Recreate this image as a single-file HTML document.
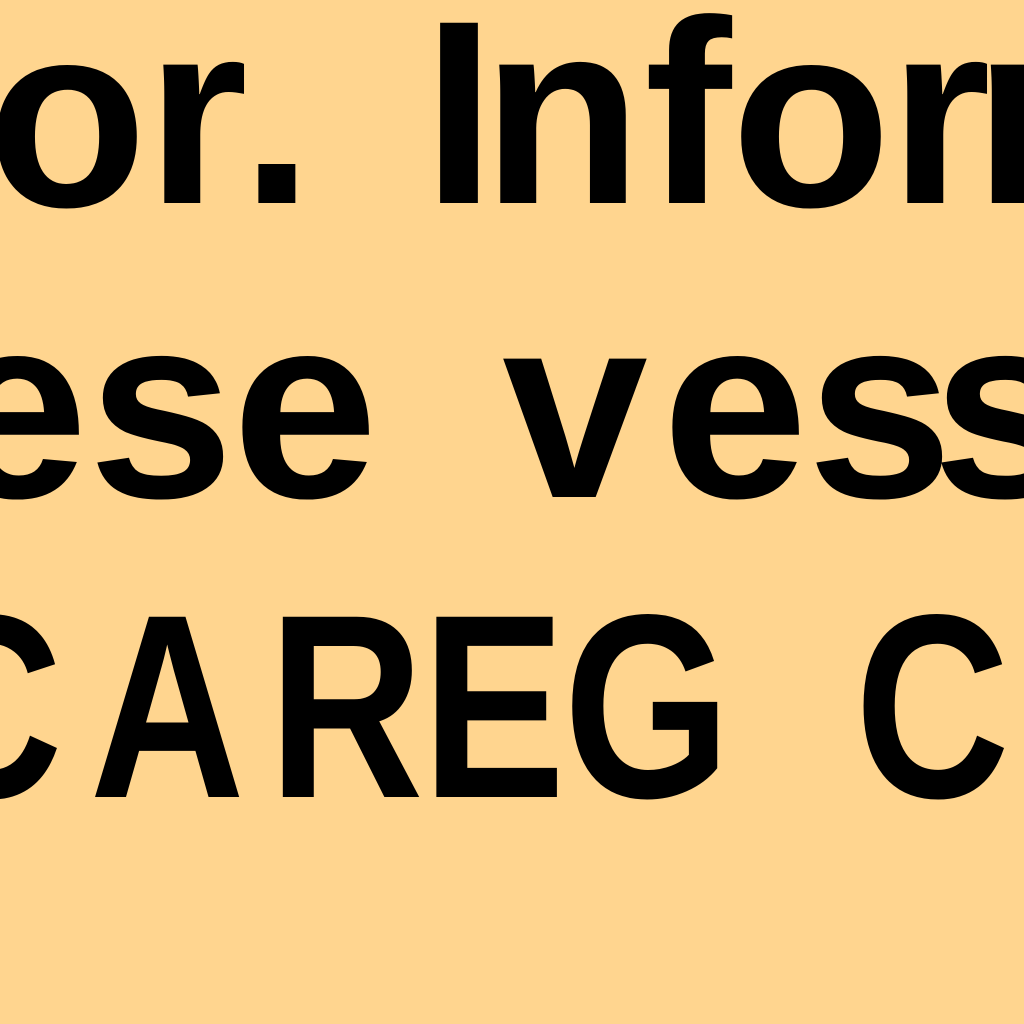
<!DOCTYPE html>
<html><head><style>
html,body{margin:0;padding:0;background:#FFD58F;width:1024px;height:1024px;overflow:hidden}
svg{display:block}
text{font-family:"Liberation Sans",sans-serif;font-size:262px;font-weight:bold;fill:#000;text-anchor:middle}
</style></head><body>
<svg width="1024" height="1024" viewBox="0 0 1024 1024">
<rect width="1024" height="1024" fill="#FFD58F"/>
<g>
<text x="67" y="206">o</text>
<text x="197" y="203">r</text>
<text x="277" y="203">.</text>
<text x="459" y="203">I</text>
<text x="562" y="203">n</text>
<text x="688" y="203">f</text>
<text x="811" y="206">o</text>
<text x="940" y="203">r</text>
<text x="1090" y="203">m</text>
</g>
<g>
<text x="15" y="497">e</text>
<text x="161" y="497">s</text>
<text x="305" y="497">e</text>
<text x="575" y="497">v</text>
<text x="735" y="497">e</text>
<text x="880" y="497">s</text>
<text x="1005" y="497">s</text>
</g>
<g transform="scale(0.82,1)">
<text x="-18" y="797">C</text>
<text x="204" y="797">A</text>
<text x="422" y="797">R</text>
<text x="602" y="797">E</text>
<text x="789" y="797">G</text>
<text x="1137" y="797">C</text>
</g>
</svg>
</body></html>
